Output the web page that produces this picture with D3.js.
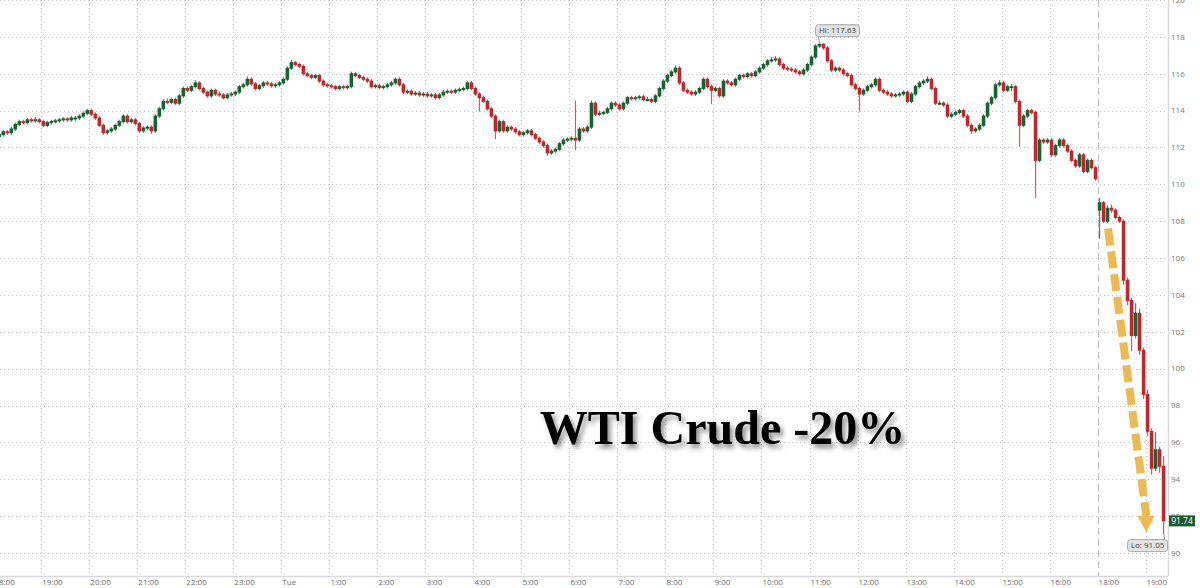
<!DOCTYPE html>
<html>
<head>
<meta charset="utf-8">
<script src="https://cdn.jsdelivr.net/npm/d3@7"></script>
<style>
  body { margin: 0; background: #fff; }
  svg { display: block; font-family: "Open Sans", "Noto Sans", sans-serif; }
</style>
</head>
<body>
<div id="chart"></div>
<script>
// minutes after Mon 18:00, the 17:00-18:00 break is cut out of the axis
const sessionStarts = [0, 1380];
const barMinutes = 5;

// 5 min bars [open, high, low, close], Mon 18:00 -> Tue 17:00
const mainSession = [
  [112.5,112.7,112.45,112.6],[112.6,112.8,112.55,112.7],[112.7,112.9,112.65,112.85],[112.85,112.9,112.75,112.8],
  [112.8,113.05,112.75,113.0],[113.0,113.3,112.95,113.25],[113.25,113.45,113.2,113.4],[113.4,113.45,113.3,113.35],
  [113.35,113.55,113.3,113.5],[113.5,113.55,113.4,113.45],[113.45,113.6,113.4,113.5],[113.5,113.55,113.35,113.4],
  [113.4,113.45,113.15,113.2],[113.2,113.4,113.15,113.35],[113.35,113.45,113.3,113.4],[113.4,113.5,113.35,113.45],
  [113.45,113.55,113.4,113.5],[113.5,113.6,113.45,113.55],[113.55,113.6,113.45,113.5],[113.5,113.65,113.45,113.6],
  [113.6,113.65,113.5,113.6],[113.6,113.75,113.55,113.7],[113.7,113.9,113.65,113.85],[113.85,114.05,113.8,114.0],
  [114.0,114.05,113.75,113.8],[113.8,113.85,113.55,113.6],[113.6,113.65,113.15,113.2],[113.2,113.25,112.75,112.8],
  [112.8,112.95,112.75,112.9],[112.9,113.05,112.85,113.0],[113.0,113.25,112.95,113.2],[113.2,113.45,113.15,113.4],
  [113.4,113.75,113.35,113.7],[113.7,113.75,113.35,113.4],[113.4,113.55,113.35,113.5],[113.5,113.55,113.25,113.3],
  [113.3,113.35,112.85,112.9],[112.9,113.1,112.85,113.05],[113.05,113.15,113.0,113.1],[113.1,113.15,112.8,112.9],
  [112.9,113.75,112.85,113.7],[113.7,114.15,113.65,114.1],[114.1,114.55,114.05,114.5],[114.5,114.6,114.4,114.45],
  [114.45,114.65,114.4,114.6],[114.6,114.65,114.35,114.4],[114.4,114.85,114.35,114.8],[114.8,115.25,114.75,115.2],
  [115.2,115.25,115.05,115.1],[115.1,115.35,115.05,115.3],[115.3,115.6,115.25,115.5],[115.5,115.55,115.15,115.2],
  [115.2,115.25,114.95,115.0],[115.0,115.05,114.75,114.8],[114.8,115.15,114.75,115.1],[115.1,115.15,114.85,114.9],
  [114.9,115.0,114.8,114.85],[114.85,114.9,114.65,114.7],[114.7,114.9,114.65,114.85],[114.85,114.95,114.8,114.9],
  [114.9,115.05,114.85,115.0],[115.0,115.35,114.95,115.3],[115.3,115.45,115.25,115.4],[115.4,115.8,115.35,115.7],
  [115.7,115.75,115.4,115.45],[115.45,115.5,115.15,115.2],[115.2,115.4,115.15,115.35],[115.35,115.55,115.3,115.5],
  [115.5,115.55,115.4,115.45],[115.45,115.5,115.3,115.35],[115.35,115.45,115.3,115.4],[115.4,115.55,115.35,115.5],
  [115.5,115.75,115.45,115.7],[115.7,116.35,115.65,116.3],[116.3,116.7,116.25,116.6],[116.6,116.65,116.45,116.5],
  [116.5,116.55,116.35,116.4],[116.4,116.45,115.95,116.0],[116.0,116.05,115.85,115.9],[115.9,115.95,115.75,115.8],
  [115.8,115.95,115.75,115.9],[115.9,115.95,115.55,115.6],[115.6,115.65,115.35,115.4],[115.4,115.45,115.3,115.35],
  [115.35,115.4,115.25,115.3],[115.3,115.35,115.15,115.2],[115.2,115.35,115.15,115.3],[115.3,115.35,115.2,115.25],
  [115.25,115.35,115.2,115.3],[115.3,116.05,115.25,116.0],[116.0,116.05,115.85,115.9],[115.9,115.95,115.75,115.8],
  [115.8,115.85,115.65,115.7],[115.7,115.75,115.55,115.6],[115.6,115.65,115.25,115.3],[115.3,115.4,115.25,115.35],
  [115.35,115.4,115.2,115.25],[115.25,115.35,115.2,115.3],[115.3,115.45,115.25,115.4],[115.4,115.55,115.35,115.5],
  [115.5,115.75,115.45,115.7],[115.7,115.75,115.35,115.4],[115.4,115.45,114.95,115.0],[115.0,115.1,114.95,115.05],
  [115.05,115.1,114.85,114.9],[114.9,115.0,114.85,114.95],[114.95,115.0,114.8,114.85],[114.85,114.95,114.8,114.9],
  [114.9,114.95,114.75,114.8],[114.8,114.9,114.75,114.85],[114.85,114.9,114.65,114.7],[114.7,114.9,114.65,114.85],
  [114.85,115.05,114.8,115.0],[115.0,115.1,114.95,115.05],[115.05,115.1,114.95,115.0],[115.0,115.15,114.95,115.1],
  [115.1,115.2,115.05,115.15],[115.15,115.25,115.1,115.2],[115.2,115.55,115.15,115.5],[115.5,115.55,115.15,115.2],
  [115.2,115.25,114.85,114.9],[114.9,114.95,114.0,114.7],[114.7,114.75,114.45,114.5],[114.5,114.55,114.05,114.1],
  [114.1,114.15,113.65,113.7],[113.7,113.75,112.5,112.9],[112.9,113.45,112.85,113.4],[113.4,113.45,112.85,112.9],
  [112.9,113.15,112.85,113.1],[113.1,113.15,112.95,113.0],[113.0,113.05,112.8,112.85],[112.85,112.9,112.65,112.7],
  [112.7,112.85,112.65,112.8],[112.8,112.95,112.75,112.9],[112.9,112.95,112.65,112.7],[112.7,112.75,112.45,112.5],
  [112.5,112.55,112.25,112.3],[112.3,112.35,112.05,112.1],[112.1,112.15,111.6,111.7],[111.7,111.85,111.65,111.8],
  [111.8,111.95,111.75,111.9],[111.9,112.25,111.85,112.2],[112.2,112.45,112.15,112.4],[112.4,112.5,112.35,112.45],
  [112.45,112.55,112.4,112.5],[112.5,114.5,111.9,112.4],[112.4,113.05,112.35,113.0],[113.0,113.05,112.85,112.9],
  [112.9,113.15,112.85,113.1],[113.1,114.5,113.05,114.4],[114.4,114.45,113.75,113.8],[113.8,113.95,113.75,113.85],
  [113.85,113.95,113.8,113.9],[113.9,114.15,113.85,114.1],[114.1,114.45,114.05,114.4],[114.4,114.45,114.25,114.3],
  [114.3,114.35,114.05,114.1],[114.1,114.45,114.05,114.4],[114.4,114.75,114.35,114.7],[114.7,114.75,114.6,114.65],
  [114.65,114.75,114.6,114.7],[114.7,114.8,114.65,114.75],[114.75,114.8,114.55,114.6],[114.6,114.7,114.55,114.6],
  [114.6,114.65,114.45,114.5],[114.5,114.85,114.45,114.8],[114.8,115.25,114.75,115.2],[115.2,115.65,115.15,115.6],
  [115.6,115.95,115.55,115.9],[115.9,116.15,115.85,116.1],[116.1,116.4,116.05,116.3],[116.3,116.35,115.45,115.5],
  [115.5,115.55,115.05,115.1],[115.1,115.15,114.95,115.0],[115.0,115.05,114.85,114.9],[114.9,115.05,114.85,115.0],
  [115.0,115.25,114.95,115.2],[115.2,115.75,115.15,115.7],[115.7,115.75,115.25,115.3],[115.3,115.35,114.4,115.1],
  [115.1,115.25,115.05,115.2],[115.2,115.25,114.75,114.8],[114.8,115.65,114.75,115.6],[115.6,115.65,115.45,115.5],
  [115.5,115.55,115.35,115.4],[115.4,115.75,115.35,115.7],[115.7,115.95,115.65,115.9],[115.9,115.95,115.8,115.85],
  [115.85,116.05,115.8,116.0],[116.0,116.05,115.85,115.9],[115.9,116.15,115.85,116.1],[116.1,116.35,116.05,116.3],
  [116.3,116.55,116.25,116.5],[116.5,116.75,116.45,116.7],[116.7,116.85,116.65,116.75],[116.75,116.9,116.7,116.8],
  [116.8,116.85,116.45,116.5],[116.5,116.55,116.25,116.3],[116.3,116.35,116.2,116.25],[116.25,116.3,116.15,116.2],
  [116.2,116.25,116.05,116.1],[116.1,116.15,115.95,116.0],[116.0,116.25,115.95,116.2],[116.2,116.55,116.15,116.5],
  [116.5,116.95,116.45,116.9],[116.9,117.55,116.85,117.5],[117.5,117.63,117.45,117.6],[117.6,117.6,117.35,117.4],
  [117.4,117.45,116.65,116.7],[116.7,116.75,116.15,116.2],[116.2,116.35,116.15,116.3],[116.3,116.35,116.15,116.2],
  [116.2,116.25,115.95,116.0],[116.0,116.05,115.85,115.9],[115.9,115.95,115.35,115.4],[115.4,115.45,115.15,115.2],
  [115.2,115.25,114.0,114.9],[114.9,115.15,114.85,115.1],[115.1,115.35,115.05,115.3],[115.3,115.45,115.25,115.4],
  [115.4,115.75,115.35,115.7],[115.7,115.75,115.05,115.1],[115.1,115.15,114.95,115.0],[115.0,115.05,114.85,114.9],
  [114.9,114.95,114.75,114.8],[114.8,114.9,114.75,114.85],[114.85,114.95,114.8,114.9],[114.9,115.05,114.85,115.0],
  [115.0,115.05,114.45,114.5],[114.5,114.95,114.45,114.9],[114.9,115.35,114.85,115.3],[115.3,115.55,115.25,115.5],
  [115.5,115.65,115.45,115.6],[115.6,115.8,115.55,115.7],[115.7,115.75,115.15,115.2],[115.2,115.25,114.35,114.4],
  [114.4,114.5,114.35,114.4],[114.4,114.45,114.25,114.3],[114.3,114.35,113.65,113.7],[113.7,113.85,113.65,113.8],
  [113.8,113.95,113.75,113.9],[113.9,114.05,113.85,114.0],[114.0,114.05,113.65,113.7],[113.7,113.75,113.15,113.2],
  [113.2,113.25,112.8,112.9],[112.9,113.05,112.85,113.0],[113.0,113.25,112.95,113.2],[113.2,113.75,113.15,113.7],
  [113.7,114.45,113.65,114.4],[114.4,114.75,114.35,114.7],[114.7,115.45,114.65,115.4],[115.4,115.6,115.35,115.5],
  [115.5,115.55,115.05,115.1],[115.1,115.35,115.05,115.3],[115.3,115.4,115.1,115.3],[115.3,115.35,114.45,114.5],
  [114.5,114.55,112.1,113.2],[113.2,113.75,113.15,113.7],[113.7,114.05,113.65,114.0],[114.0,114.05,113.85,113.9],
  [113.9,113.95,109.3,111.3],[111.3,112.45,111.25,112.4],[112.4,112.45,112.25,112.3],[112.3,112.45,112.25,112.4],
  [112.4,112.45,111.55,111.6],[111.6,112.15,111.55,112.1],[112.1,112.45,112.05,112.4],[112.4,112.45,112.05,112.1],
  [112.1,112.15,111.75,111.8],[111.8,111.85,111.25,111.3],[111.3,111.35,110.95,111.0],[111.0,111.65,110.95,111.6],
  [111.6,111.65,110.65,110.7],[110.7,111.35,110.65,111.3],[111.3,111.35,110.85,110.9],[110.9,110.95,110.25,110.3]
];

// Tue 18:00 re-open -> 19:25
const eveningSession = [
  [108.6,109.2,107.1,109.0],[109.0,109.05,107.95,108.0],[108.0,108.8,107.95,108.7],[108.7,108.85,108.5,108.6],
  [108.6,108.65,108.15,108.2],[108.2,108.25,107.95,108.0],[108.0,108.05,104.6,104.8],[104.8,104.9,103.5,103.7],
  [103.7,103.8,101.0,101.8],[101.8,103.5,101.7,103.0],[103.0,103.2,100.8,101.0],[101.0,101.1,98.4,98.6],
  [98.6,98.8,96.4,96.6],[96.6,96.7,94.3,94.6],[94.6,96.5,94.5,95.6],[95.6,95.7,94.4,94.7],
  [94.7,95.2,91.05,91.74]
];

const tickMinutes = [0,60,120,180,240,300,360,420,480,540,600,660,720,780,840,900,960,1020,1080,1140,1200,1260,1320,1380,1440];
const tickLabels = ["18:00","19:00","20:00","21:00","22:00","23:00","Tue","1:00","2:00","3:00","4:00","5:00","6:00",
  "7:00","8:00","9:00","10:00","11:00","12:00","13:00","14:00","15:00","16:00","18:00","19:00"];
const yTicks = [90,92,94,96,98,100,102,104,106,108,110,112,114,116,118,120];

const hiValue = 117.63;
const loValue = 91.05;
const lastValue = 91.74;
const titleText = "WTI Crude -20%";
// annotation anchors [minute, price]
const titleAnchor = [683, 95.9];
const arrowFrom = [1393, 107.6];
const arrowTo = [1441, 92.0];
const arrowTip = [1441, 91.1];

const width = 1200;
const height = 588;
const plotRight = 1168;
const plotBottom = 576;

const x = d3.scaleLinear().domain([0, 1468]).range([-6.7, plotRight]);
const y = d3.scaleLinear().domain([88.75, 120]).range([plotBottom, 0]);

const svg = d3.select("#chart").append("svg")
  .attr("width", width)
  .attr("height", height);

const defs = svg.append("defs");
defs.append("clipPath").attr("id", "plot-clip")
  .append("rect").attr("x", 0).attr("y", 0).attr("width", plotRight).attr("height", plotBottom);

const shadow = defs.append("filter").attr("id", "title-shadow")
  .attr("x", "-10%").attr("y", "-30%").attr("width", "130%").attr("height", "170%");
shadow.append("feDropShadow")
  .attr("dx", 3).attr("dy", 4).attr("stdDeviation", 2.5)
  .attr("flood-color", "#000").attr("flood-opacity", 0.45);

// grid
svg.append("g")
  .selectAll("line")
  .data(yTicks)
  .join("line")
  .attr("x1", 0).attr("x2", plotRight)
  .attr("y1", (d) => Math.round(y(d)) + 0.5).attr("y2", (d) => Math.round(y(d)) + 0.5)
  .attr("stroke", "#c8c8c8")
  .attr("stroke-dasharray", "1,3");

svg.append("g")
  .selectAll("line")
  .data(tickMinutes)
  .join("line")
  .attr("x1", (d) => Math.round(x(d)) + 0.5).attr("x2", (d) => Math.round(x(d)) + 0.5)
  .attr("y1", 0).attr("y2", plotBottom)
  .attr("stroke", (d) => (d === sessionStarts[1] ? "#bdbdbd" : "#c8c8c8"))
  .attr("stroke-dasharray", (d) => (d === sessionStarts[1] ? "7,4" : "1,3"));

// axes frame
svg.append("line")
  .attr("x1", plotRight + 0.5).attr("x2", plotRight + 0.5)
  .attr("y1", 0).attr("y2", plotBottom)
  .attr("stroke", "#d9d9d9").attr("stroke-width", 1.5);
svg.append("line")
  .attr("x1", 0).attr("x2", plotRight)
  .attr("y1", plotBottom + 0.5).attr("y2", plotBottom + 0.5)
  .attr("stroke", "#d9d9d9").attr("stroke-width", 1.5);

svg.append("g")
  .selectAll("text")
  .data(yTicks)
  .join("text")
  .attr("x", plotRight + 3)
  .attr("y", (d) => y(d))
  .attr("dy", "0.35em")
  .attr("fill", "#7a7a7a")
  .style("font-size", "8px")
  .text((d) => d);

svg.append("g")
  .selectAll("text")
  .data(tickMinutes)
  .join("text")
  .attr("x", (d) => x(d) + 1)
  .attr("y", 585)
  .attr("fill", "#6e6e6e")
  .style("font-size", "8px")
  .text((d, i) => tickLabels[i]);

// candles
const bars = [];
mainSession.forEach((d, i) => bars.push({ t: sessionStarts[0] + i * barMinutes + barMinutes / 2, o: d[0], h: d[1], l: d[2], c: d[3] }));
eveningSession.forEach((d, i) => bars.push({ t: sessionStarts[1] + i * barMinutes + barMinutes / 2, o: d[0], h: d[1], l: d[2], c: d[3] }));

const up = "#1a6231";
const down = "#bf272d";

const candles = svg.append("g")
  .attr("clip-path", "url(#plot-clip)")
  .selectAll("g")
  .data(bars)
  .join("g");

candles.append("line")
  .attr("x1", (d) => x(d.t)).attr("x2", (d) => x(d.t))
  .attr("y1", (d) => y(d.h) - 1).attr("y2", (d) => y(d.l) + 1)
  .attr("stroke", (d) => (d.c >= d.o ? up : down))
  .attr("stroke-opacity", 0.75)
  .attr("stroke-width", 1.2);

candles.append("rect")
  .attr("x", (d) => x(d.t) - 1.8)
  .attr("width", 3.6)
  .attr("y", (d) => y(Math.max(d.o, d.c)) - 0.5)
  .attr("height", (d) => Math.max(2, Math.abs(y(d.o) - y(d.c)) + 1))
  .attr("fill", (d) => (d.c >= d.o ? up : down));

// dashed arrow
const arrowColor = "#ecb445";
svg.append("line")
  .attr("x1", x(arrowFrom[0])).attr("y1", y(arrowFrom[1]))
  .attr("x2", x(arrowTo[0])).attr("y2", y(arrowTo[1]))
  .attr("stroke", arrowColor)
  .attr("stroke-width", 8)
  .attr("stroke-dasharray", "17,6")
  .attr("opacity", 0.92);
const tipX = x(arrowTip[0]);
const tipY = y(arrowTip[1]);
svg.append("path")
  .attr("d", `M${tipX - 9},${tipY - 17}L${tipX + 8},${tipY - 17}L${tipX},${tipY}Z`)
  .attr("fill", arrowColor)
  .attr("opacity", 0.92);

// title
svg.append("text")
  .attr("x", x(titleAnchor[0]))
  .attr("y", y(titleAnchor[1]))
  .attr("filter", "url(#title-shadow)")
  .style("font-family", "'Liberation Serif', 'DejaVu Serif', serif")
  .style("font-weight", "bold")
  .style("font-size", "48px")
  .attr("fill", "#050505")
  .text(titleText);

// hi / lo / last flags
function flag(label, bx, by, bw, px, py, ax, ay) {
  svg.append("line")
    .attr("x1", ax).attr("y1", ay).attr("x2", px).attr("y2", py)
    .attr("stroke", "#a0a0a0");
  svg.append("rect")
    .attr("x", bx).attr("y", by).attr("width", bw).attr("height", 12)
    .attr("rx", 3)
    .attr("fill", "#e3e3e3")
    .attr("stroke", "#a8a8a8");
  svg.append("text")
    .attr("x", bx + bw / 2).attr("y", by + 6)
    .attr("dy", "0.35em")
    .attr("text-anchor", "middle")
    .attr("fill", "#4a4a4a")
    .style("font-size", "8px")
    .text(label);
}

const hiBar = bars.find((d) => d.h === hiValue);
const loBar = bars.find((d) => d.l === loValue);
flag("Hi: " + hiValue.toFixed(2), x(hiBar.t) - 4, y(hiValue) - 19, 44, x(hiBar.t), y(hiValue), x(hiBar.t) - 1, y(hiValue) - 7);
flag("Lo: " + loValue.toFixed(2), x(loBar.t) - 36, y(loValue) + 6, 40, x(loBar.t), y(loValue), x(loBar.t) + 1, y(loValue) + 6);

svg.append("rect")
  .attr("x", plotRight + 1).attr("y", y(lastValue) - 5.5)
  .attr("width", 26).attr("height", 11)
  .attr("fill", "#1d5a2e");
svg.append("text")
  .attr("x", plotRight + 14).attr("y", y(lastValue))
  .attr("dy", "0.35em")
  .attr("text-anchor", "middle")
  .attr("fill", "#fff")
  .style("font-size", "8.5px")
  .text(lastValue.toFixed(2));
</script>
</body>
</html>
